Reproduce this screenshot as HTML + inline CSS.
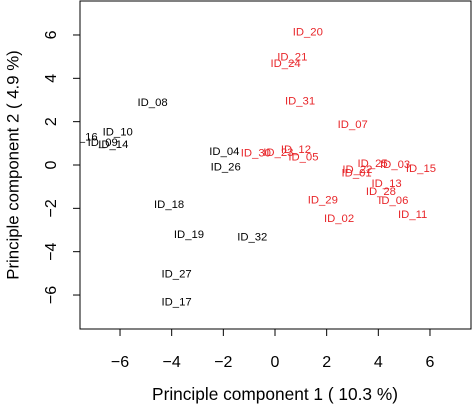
<!DOCTYPE html>
<html><head><meta charset="utf-8"><style>body{margin:0;background:#fff}svg{display:block}text{font-family:"Liberation Sans",sans-serif}</style></head>
<body>
<svg id="chart" width="472" height="404" xmlns="http://www.w3.org/2000/svg">
<defs><clipPath id="clip"><rect x="80" y="1" width="391" height="328"/></clipPath></defs>
<rect x="80" y="1" width="391" height="328" fill="none" stroke="#000" stroke-width="1"/>
<g id="xt"></g>
<g id="yt"></g>
<g id="pts" clip-path="url(#clip)"></g>
<text x="275" y="400" font-size="17.3" text-anchor="middle">Principle component 1 ( 10.3 %)</text>
<text transform="translate(14,165) rotate(-90)" font-size="16.8" text-anchor="middle" dominant-baseline="middle">Principle component 2 ( 4.9 %)</text>
</svg>
<script>
const labels=["ID_20","ID_21","ID_24","ID_31","ID_07","ID_08","ID_10","ID_16","ID_09","ID_14","ID_04","ID_26","ID_30","ID_23","ID_12","ID_05","ID_25","ID_03","ID_15","ID_22","ID_01","ID_13","ID_28","ID_06","ID_11","ID_29","ID_02","ID_18","ID_19","ID_32","ID_27","ID_17"];
const pc1=[1.27,0.67,0.41,0.97,3.01,-4.74,-6.09,-7.45,-6.67,-6.26,-1.96,-1.91,-0.74,0.13,0.81,1.10,3.78,4.65,5.65,3.19,3.16,4.32,4.10,4.58,5.33,1.85,2.48,-4.10,-3.33,-0.88,-3.81,-3.81];
const pc2=[6.12,4.95,4.67,2.92,1.85,2.85,1.51,1.27,1.01,0.92,0.59,-0.11,0.54,0.55,0.69,0.34,0.05,0.0,-0.18,-0.22,-0.40,-0.88,-1.25,-1.65,-2.31,-1.63,-2.49,-1.85,-3.23,-3.34,-5.06,-6.35];
const group=[1,1,1,1,1,0,0,0,0,0,0,0,1,1,1,1,1,1,1,1,1,1,1,1,1,1,1,0,0,0,0,0];
const xTicks=[-6,-4,-2,0,2,4,6];
const yTicks=[-6,-4,-2,0,2,4,6];
const sx=v=>275+v*25.83, sy=v=>165-v*21.67;
const NS="http://www.w3.org/2000/svg";
function mk(t,a,p){const e=document.createElementNS(NS,t);for(const k in a)e.setAttribute(k,a[k]);p.appendChild(e);return e;}
const xt=document.getElementById('xt'),yt=document.getElementById('yt'),pts=document.getElementById('pts');
xTicks.forEach(v=>{
 const l=mk('line',{x1:sx(v),x2:sx(v),y1:329,y2:336,stroke:'#000'},xt);
 
 
 const t=mk('text',{x:sx(v),y:367,'font-size':16,'text-anchor':'middle'},xt);
 
 
 t.textContent=v<0?'\u2212'+(-v):v;
});
yTicks.forEach(v=>{
 const l=mk('line',{x1:73,x2:80,y1:sy(v),y2:sy(v),stroke:'#000'},yt);
 
 
 const t=mk('text',{transform:`translate(56,${sy(v)}) rotate(-90)`,'font-size':16,'text-anchor':'middle'},yt);
 
 
 t.textContent=v<0?'\u2212'+(-v):v;
});
labels.forEach((n,i)=>{
 const t=mk('text',{x:sx(pc1[i]),y:sy(pc2[i]),'font-size':11.3,'text-anchor':'middle','dominant-baseline':'central',fill:group[i]?'#e8262a':'#000'},pts);
 
 
 t.textContent=n;
});
</script>
</body></html>
